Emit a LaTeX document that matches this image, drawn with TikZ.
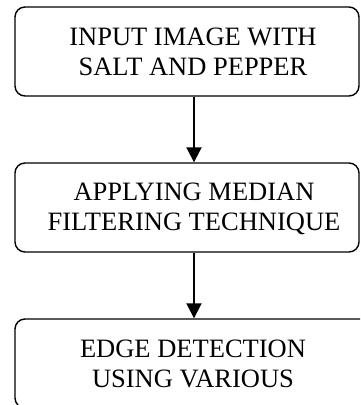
\documentclass[tikz,border=0pt]{standalone}
\usepackage{fontspec}
\setmainfont{Liberation Serif}
\usetikzlibrary{arrows.meta}
\tikzset{
  flowbox/.style={draw=black, line width=1.4pt, rounded corners=10pt, inner sep=0pt},
  flowtext/.style={align=center, inner sep=0pt, font=\fontsize{26.5}{30}\selectfont},
  flowarrow/.style={draw=black, line width=2pt, -{Triangle[length=15pt,width=15pt]}}
}
\begin{document}
\begin{tikzpicture}[x=1pt,y=-1pt]
\useasboundingbox (0,0) rectangle (360,405);
\clip (0,0) rectangle (360,405);
\node[flowbox, minimum width=344pt, minimum height=89pt] (b1) at (187,51.5) {};
\node[flowbox, minimum width=344pt, minimum height=89pt] (b2) at (187,207.5) {};
\node[flowbox, minimum width=380pt, minimum height=89pt] (b3) at (205,363.5) {};
\node[flowtext] (t1) at (193,52) {INPUT IMAGE WITH\\SALT AND PEPPER};
\node[flowtext] (t2) at (194,209) {APPLYING MEDIAN\\FILTERING TECHNIQUE};
\node[flowtext] (t3) at (193,364) {EDGE DETECTION\\USING VARIOUS};
\coordinate (ax) at (194,0);
\draw[flowarrow] (b1.south -| ax) -- (b2.north -| ax);
\draw[flowarrow] (b2.south -| ax) -- (b3.north -| ax);
\end{tikzpicture}
\end{document}
